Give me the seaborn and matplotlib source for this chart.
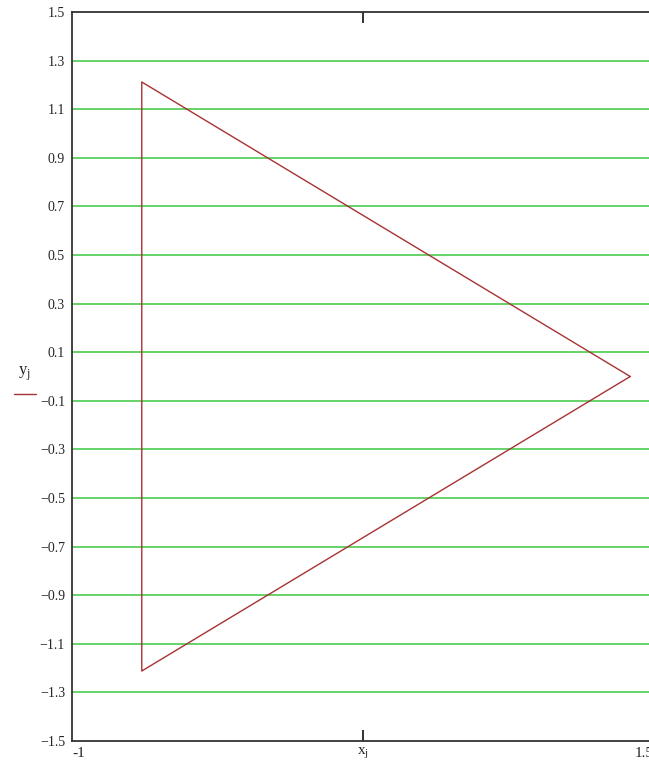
import matplotlib
matplotlib.use("Agg")
import matplotlib.pyplot as plt
import seaborn as sns
import pandas as pd

# Triangle trace (x_j, y_j), closed
x_j = [1.4, -0.7, -0.7, 1.4]
y_j = [0.0, 1.212, -1.212, 0.0]

x_limits = [-1.0, 1.5]
y_limits = [-1.5, 1.5]
y_ticks = [-1.5, -1.3, -1.1, -0.9, -0.7, -0.5, -0.3, -0.1, 0.1, 0.3, 0.5, 0.7, 0.9, 1.1, 1.3, 1.5]
x_mid_tick = 0.25

sns.set_theme(style="white")
plt.rcParams['font.family'] = ['Liberation Serif', 'DejaVu Serif']

W, H = 649, 773
fig = plt.figure(figsize=(W / 100, H / 100), dpi=100)
ax = fig.add_axes([72 / W, 32 / H, 581.5 / W, 729 / H])

df = pd.DataFrame({"x": x_j, "y": y_j, "order": range(len(x_j))})

# green horizontal grid lines
for yv in y_ticks[1:-1]:
    ax.axhline(yv, color="#5ccf5c", lw=1.3, zorder=1)

sns.lineplot(data=df, x="x", y="y", sort=False, estimator=None,
             color="#a83232", lw=1.0, ax=ax, zorder=3)

ax.set_xlim(x_limits)
ax.set_ylim(y_limits)
ax.set_xlabel("")
ax.set_ylabel("")

for s in ax.spines.values():
    s.set_color("#333333")
    s.set_linewidth(1.3)

ax.set_yticks(y_ticks)
ax.set_yticklabels([("\u2212" if v < 0 else "") + f"{abs(v):.1f}" for v in y_ticks], fontsize=10)
ax.tick_params(axis="y", length=0, pad=5)

ax.set_xticks([x_mid_tick])
ax.set_xticklabels([""])
ax.tick_params(axis="x", direction="in", length=8, width=1.3, color="#222222",
               top=True, bottom=True)

# x-axis end labels and axis label
ax.text(-1.0, -1.525, "-1", fontsize=11, ha="left", va="top",
        transform=ax.transData)
ax.text(1.5, -1.525, "1.5", fontsize=11, ha="right", va="top",
        transform=ax.transData, clip_on=False)
ax.text(x_mid_tick, -1.52, r"x$_\mathregular{j}$", fontsize=11, ha="center", va="top")

# y label with legend line
fig.text(24 / W, 1 - 374 / H, r"y$_\mathregular{j}$", fontsize=12, ha="center", va="center")
fig.add_artist(plt.Line2D([14 / W, 36 / W], [1 - 394 / H, 1 - 394 / H],
                          color="#a83232", lw=1.0, transform=fig.transFigure))

fig.savefig("out.png", dpi=100)
